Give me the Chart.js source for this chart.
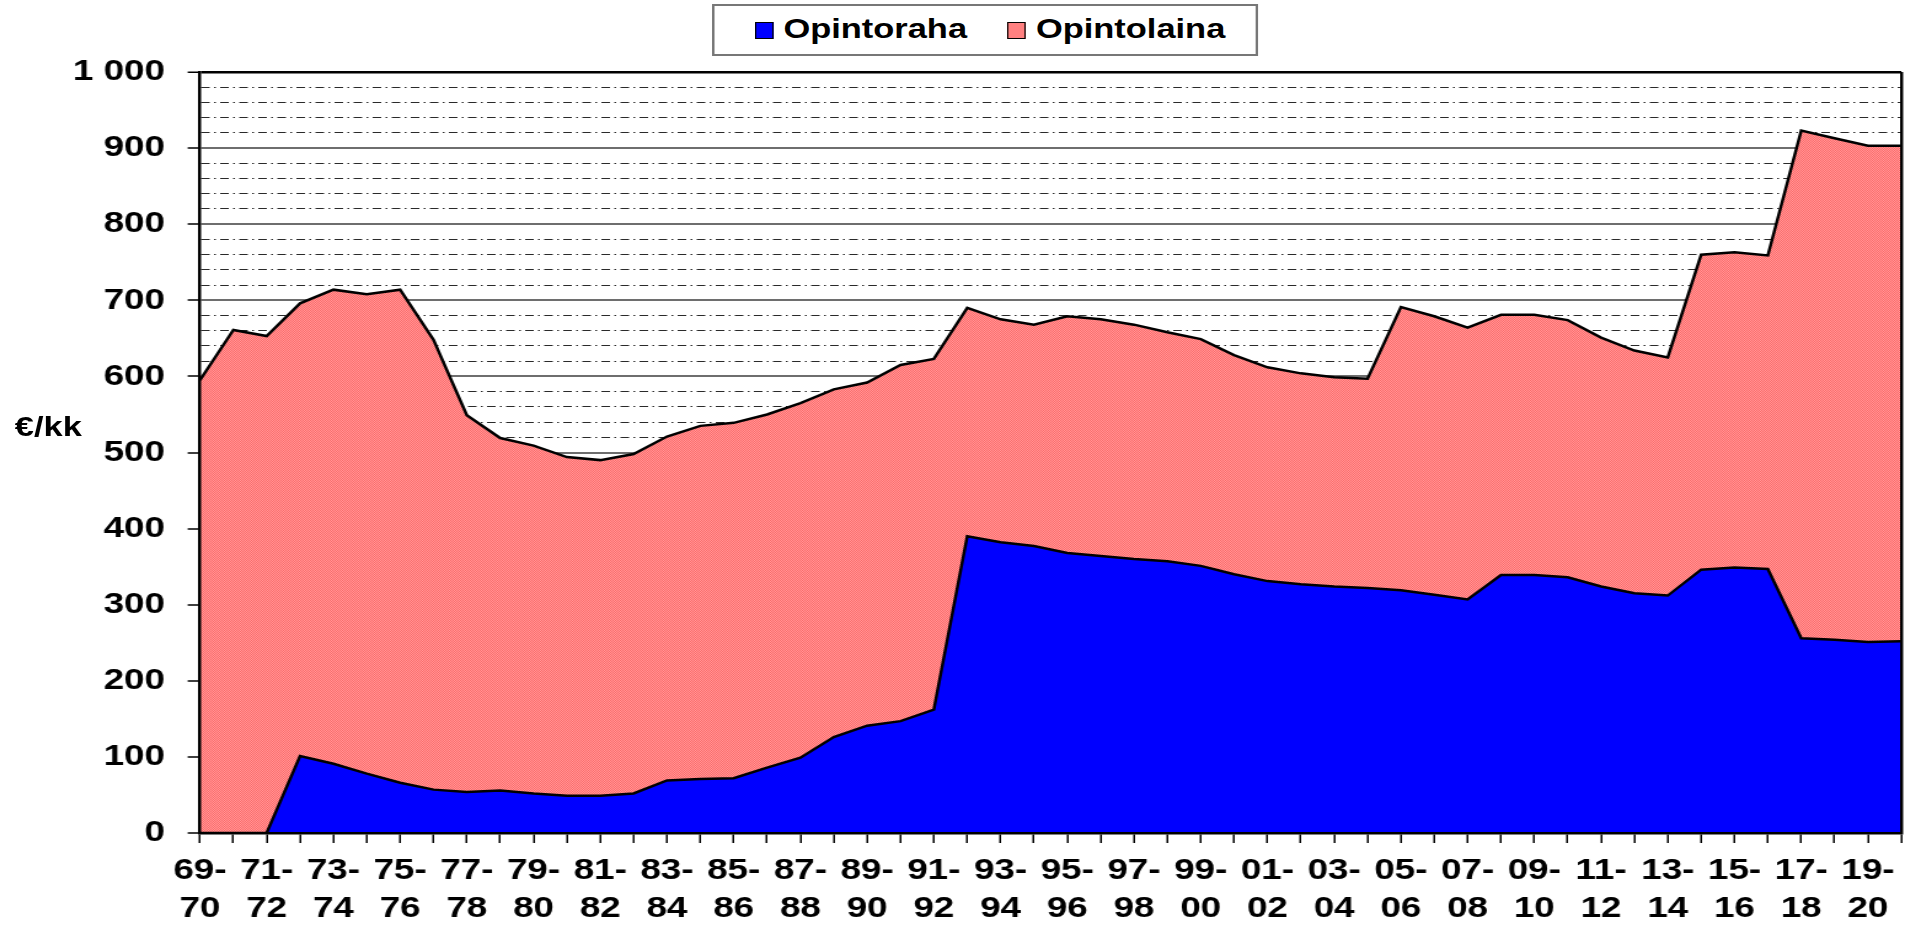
<!DOCTYPE html>
<html lang="fi">
<head>
<meta charset="utf-8">
<title>Opintoraha ja opintolaina</title>
<script src="https://cdn.jsdelivr.net/npm/chart.js@4"></script>
<style>
  html, body { margin: 0; padding: 0; background: #fff; overflow: hidden; }
  #stage {
    position: relative; width: 1562px; height: 925px;
    transform: scaleX(1.2298); transform-origin: 0 0;
    font-family: 'Liberation Sans', Arial, sans-serif; font-weight: bold; color: #000;
  }
  #chartBox { position: absolute; left: 0; top: 0; width: 1562px; height: 925px; }
  #legend {
    position: absolute; left: 579px; top: 4px; width: 444px; height: 52px;
    box-sizing: border-box; border: 2px solid #777; background: #fff;
    display: flex; align-items: center; padding-left: 33px; font-size: 28px; line-height: 28px;
  }
  #legend .item { display: flex; align-items: center; }
  #legend .item + .item { margin-left: 33px; }
  #legend .swatch { width: 15px; height: 17px; box-sizing: border-box; border: 1.5px solid #000; margin-right: 8px; }
  #legend .text { position: relative; top: -1px; }
  #unit { position: absolute; left: 12px; top: 413px; font-size: 28px; line-height: 28px; }
</style>
</head>
<body>
<div id="stage">
  <div id="chartBox"><canvas id="areaChart"></canvas></div>
  <div id="legend"></div>
  <div id="unit">€/kk</div>
</div>
<script>
// lukuvuodet 1969-70 ... 2020-21
const periods = ['69-70', '70-71', '71-72', '72-73', '73-74', '74-75', '75-76', '76-77', '77-78', '78-79',
    '79-80', '80-81', '81-82', '82-83', '83-84', '84-85', '85-86', '86-87', '87-88', '88-89',
    '89-90', '90-91', '91-92', '92-93', '93-94', '94-95', '95-96', '96-97', '97-98', '98-99',
    '99-00', '00-01', '01-02', '02-03', '03-04', '04-05', '05-06', '06-07', '07-08', '08-09',
    '09-10', '10-11', '11-12', '12-13', '13-14', '14-15', '15-16', '16-17', '17-18', '18-19',
    '19-20', '20-21'];

const opintoraha = [0, 0, 0, 101, 91, 78, 66, 57, 54, 56,
    52, 49, 49, 52, 69, 71, 72, 86, 99, 126,
    141, 147, 162, 390, 382, 377, 368, 364, 360, 357,
    351, 340, 331, 327, 324, 322, 319, 313, 307, 339,
    339, 336, 324, 315, 312, 346, 349, 347, 256, 254,
    251, 252];

const opintolaina = [595, 661, 653, 595, 623, 630, 648, 591, 495, 463,
    457, 445, 441, 446, 452, 464, 467, 464, 466, 457,
    451, 468, 461, 300, 293, 291, 311, 311, 308, 301,
    298, 288, 281, 277, 275, 275, 372, 366, 357, 342,
    342, 338, 327, 319, 313, 414, 414, 412, 667, 659,
    652, 651];

const yTickLabels = ['0', '100', '200', '300', '400', '500', '600', '700', '800', '900', '1 000'];

const blue = '#0000ff';
const pink = '#ff8080';

function pinkPattern() {
    const c = document.createElement('canvas');
    c.width = 2;
    c.height = 2;
    const g = c.getContext('2d');
    g.fillStyle = '#ff9a9a';
    g.fillRect(0, 0, 2, 2);
    g.fillStyle = '#ff6868';
    g.fillRect(0, 0, 1, 1);
    g.fillRect(1, 1, 1, 1);
    return g.createPattern(c, 'repeat');
}

Chart.defaults.font.family = "'Liberation Sans', Arial, sans-serif";
Chart.defaults.color = '#000';

const minorDash = [7, 3.5, 1.5, 3.5];
const isMajor = (ctx) => ctx.tick && ctx.tick.value % 100 === 0;
const lastIndex = periods.length - 1;

const chart = new Chart(document.getElementById('areaChart'), {
    type: 'line',
    data: {
        labels: periods.map(p => [p.slice(0, 3), p.slice(3)]),
        datasets: [{
            label: 'Opintoraha',
            data: opintoraha,
            backgroundColor: blue,
            borderColor: '#000',
            borderWidth: 2.5,
            fill: 'origin'
        }, {
            label: 'Opintolaina',
            data: opintolaina,
            backgroundColor: pinkPattern(),
            borderColor: '#000',
            borderWidth: 2.5,
            fill: '-1'
        }]
    },
    options: {
        responsive: true,
        maintainAspectRatio: false,
        animation: false,
        events: [],
        layout: { padding: { top: 72, right: 16, left: 0, bottom: 0 } },
        elements: {
            line: { tension: 0 },
            point: { radius: 0 }
        },
        plugins: {
            legend: { display: false },
            tooltip: { enabled: false }
        },
        scales: {
            x: {
                offset: false,
                afterFit: (scale) => { scale.height = 92; },
                grid: {
                    z: 1,
                    color: (ctx) => ctx.index === lastIndex ? '#000' : 'transparent',
                    lineWidth: 2.5,
                    tickColor: '#000',
                    tickWidth: 1.5,
                    tickLength: 10
                },
                border: { color: '#000', width: 2.5, z: 1 },
                ticks: {
                    autoSkip: false,
                    maxRotation: 0,
                    minRotation: 0,
                    padding: 9,
                    font: { size: 30, weight: 'bold', lineHeight: 1.25 },
                    callback: function (value, index) {
                        return index % 2 === 0 ? this.getLabelForValue(value) : '';
                    }
                }
            },
            y: {
                stacked: true,
                min: 0,
                max: 1000,
                afterFit: (scale) => { scale.width = 162.6; },
                grid: {
                    color: (ctx) => {
                        if (!ctx.tick) return '#000';
                        if (ctx.tick.value === 1000) return '#000';
                        return isMajor(ctx) ? '#6e6e6e' : '#2a2a2a';
                    },
                    lineWidth: (ctx) => {
                        if (ctx.tick && ctx.tick.value === 1000) return 2.5;
                        return isMajor(ctx) ? 2 : 1;
                    },
                    tickColor: (ctx) => isMajor(ctx) ? '#000' : 'transparent',
                    tickWidth: 1.5,
                    tickLength: 10
                },
                border: {
                    color: '#000',
                    width: 2.5,
                    z: 1,
                    dash: (ctx) => (ctx.tick && !isMajor(ctx)) ? minorDash : []
                },
                ticks: {
                    stepSize: 20,
                    autoSkip: false,
                    padding: 18.4,
                    font: { size: 30, weight: 'bold' },
                    callback: (value) => value % 100 === 0 ? yTickLabels[value / 100] : ''
                }
            }
        }
    }
});

// selite samoilla väreillä kuin sarjat
const legendEl = document.getElementById('legend');
const legendColors = [blue, pink];
chart.data.datasets.forEach((ds, i) => {
    const item = document.createElement('div');
    item.className = 'item';
    const sw = document.createElement('span');
    sw.className = 'swatch';
    sw.style.background = legendColors[i];
    const txt = document.createElement('span');
    txt.className = 'text';
    txt.textContent = ds.label;
    item.appendChild(sw);
    item.appendChild(txt);
    legendEl.appendChild(item);
});
</script>
</body>
</html>
